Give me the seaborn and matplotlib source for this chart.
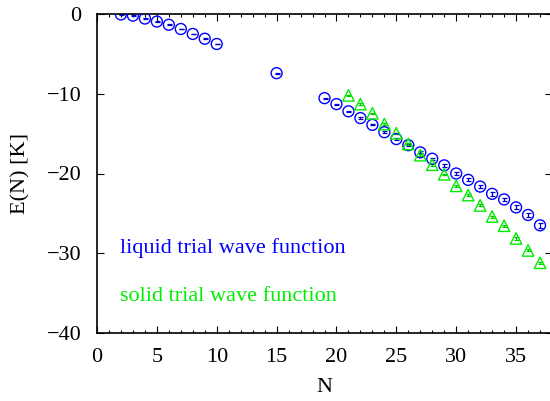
import numpy as np
import matplotlib
matplotlib.use("Agg")
import matplotlib.pyplot as plt
import seaborn as sns
from matplotlib.ticker import MultipleLocator

# liquid trial wave function (blue circles)
n_liquid = [2, 3, 4, 5, 6, 7, 8, 9, 10, 15,
            19, 20, 21, 22, 23, 24, 25, 26, 27, 28,
            29, 30, 31, 32, 33, 34, 35, 36, 37]
e_liquid = [-0.06, -0.2, -0.57, -0.95, -1.35, -1.88, -2.5, -3.1, -3.76, -7.42,
            -10.55, -11.3, -12.2, -13.05, -13.9, -14.82, -15.68, -16.45, -17.35, -18.15,
            -18.98, -20.0, -20.8, -21.64, -22.55, -23.25, -24.25, -25.2, -26.5]
err_liquid = [0.03, 0.03, 0.04, 0.04, 0.05, 0.05, 0.05, 0.06, 0.06, 0.06,
              0.07, 0.07, 0.08, 0.08, 0.08, 0.09, 0.09, 0.1, 0.12, 0.14,
              0.16, 0.18, 0.2, 0.2, 0.22, 0.22, 0.25, 0.28, 0.3]

# solid trial wave function (green triangles)
n_solid = [21, 22, 23, 24, 25, 26, 27, 28, 29, 30,
           31, 32, 33, 34, 35, 36, 37]
e_solid = [-10.2, -11.3, -12.45, -13.8, -14.95, -16.3, -17.7, -18.9, -20.1, -21.55,
           -22.7, -24.0, -25.4, -26.55, -28.15, -29.65, -31.2]
err_solid = [0.08, 0.08, 0.08, 0.09, 0.09, 0.1, 0.1, 0.1, 0.1, 0.11,
             0.11, 0.12, 0.12, 0.12, 0.13, 0.13, 0.14]

sns.set_style("ticks")
plt.rcParams['font.family'] = ['Liberation Serif', 'DejaVu Serif']
plt.rcParams['text.color'] = 'black'
plt.rcParams['axes.labelcolor'] = 'black'
plt.rcParams['xtick.color'] = 'black'
plt.rcParams['ytick.color'] = 'black'
plt.rcParams['axes.edgecolor'] = 'black'

fig = plt.figure(figsize=(5.5, 4.01), dpi=100)
ax = fig.add_axes([97/550, 68/401, 455/550, 319/401])

ax.errorbar(n_liquid, e_liquid, yerr=err_liquid, fmt='none', ecolor='#0000cc',
            elinewidth=0.9, capsize=1.8, capthick=0.9, zorder=2)
ax.errorbar(n_solid, e_solid, yerr=err_solid, fmt='none', ecolor='#00cc00',
            elinewidth=0.9, capsize=1.8, capthick=0.9, zorder=2)

sns.scatterplot(x=n_liquid, y=e_liquid, ax=ax, marker='o', s=62,
                facecolor='none', edgecolor='#0000ff', linewidth=1.0, zorder=3)
sns.scatterplot(x=n_solid, y=e_solid, ax=ax, marker='^', s=68,
                facecolor='none', edgecolor='#00ee00', linewidth=1.0, zorder=3)

ax.set_xlim(0, 38)
ax.set_ylim(-40, 0)
ax.xaxis.set_major_locator(MultipleLocator(5))
ax.xaxis.set_minor_locator(MultipleLocator(1))
ax.yaxis.set_major_locator(MultipleLocator(10))
ax.tick_params(which='both', direction='in', top=True, right=True,
               labelsize=16, width=0.8)
ax.tick_params(which='major', length=5)
ax.tick_params(which='minor', length=2.5)
ax.tick_params(axis='x', pad=11)
ax.tick_params(axis='y', pad=11)
for sp in ax.spines.values():
    sp.set_visible(True)
    sp.set_linewidth(1.2)

ax.set_xlabel('N', fontsize=16, labelpad=8)
ax.set_ylabel('E(N) [K]', fontsize=16, labelpad=12)

ax.text(1.9, -30.0, 'liquid trial wave function', color='#0000ff', fontsize=16)
ax.text(1.9, -36.0, 'solid trial wave function', color='#00ee00', fontsize=16)

fig.savefig('out.png', dpi=100)
